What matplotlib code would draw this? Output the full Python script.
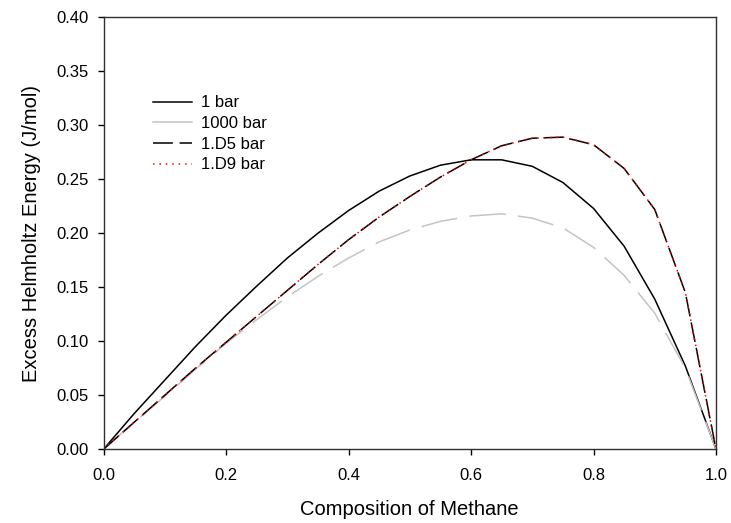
#!/usr/bin/env python3

import matplotlib
matplotlib.use("Agg")
import matplotlib.pyplot as plt
from matplotlib.lines import Line2D
import numpy as np

# Composition of methane (mole fraction)
composition = [0.00, 0.05, 0.10, 0.15, 0.20, 0.25, 0.30, 0.35, 0.40, 0.45, 0.50,
               0.55, 0.60, 0.65, 0.70, 0.75, 0.80, 0.85, 0.90, 0.95, 1.00]

# Excess Helmholtz energy (J/mol) at each pressure
energy_1bar = [0.000, 0.033, 0.064, 0.095, 0.124, 0.151, 0.177, 0.200, 0.221, 0.239, 0.253,
               0.263, 0.268, 0.268, 0.262, 0.247, 0.223, 0.188, 0.139, 0.077, 0.000]
energy_1000bar = [0.000, 0.025, 0.049, 0.074, 0.098, 0.120, 0.141, 0.160, 0.177, 0.192, 0.203,
                  0.211, 0.216, 0.218, 0.214, 0.205, 0.187, 0.161, 0.126, 0.075, 0.000]
energy_1d5bar = [0.000, 0.025, 0.050, 0.075, 0.099, 0.123, 0.147, 0.171, 0.194, 0.215, 0.234,
                 0.252, 0.268, 0.281, 0.288, 0.289, 0.282, 0.260, 0.222, 0.145, 0.000]
energy_1d9bar = [0.000, 0.025, 0.050, 0.075, 0.099, 0.123, 0.147, 0.171, 0.194, 0.215, 0.234,
                 0.252, 0.268, 0.281, 0.288, 0.289, 0.282, 0.260, 0.222, 0.145, 0.000]

labels = ["1 bar", "1000 bar", "1.D5 bar", "1.D9 bar"]

x_ticks = [0.0, 0.2, 0.4, 0.6, 0.8, 1.0]
y_ticks = [0.00, 0.05, 0.10, 0.15, 0.20, 0.25, 0.30, 0.35, 0.40]


def plot_helmholtz(filename: str) -> None:
    '''
    Plot excess Helmholtz energy against methane composition
    '''
    plt.rcParams['font.family'] = ['Liberation Sans', 'DejaVu Sans']

    fig, ax = plt.subplots(figsize=(7.31, 5.23), dpi=100)
    fig.subplots_adjust(left=0.1416, right=0.9795, bottom=0.141, top=0.967)

    ax.plot(composition, energy_1bar, color="black", lw=1.1)
    ax.plot(composition, energy_1000bar, color="#c4c4c4", lw=1.1,
            dashes=(24, 8))
    ax.plot(composition, energy_1d5bar, color="black", lw=1.1,
            dashes=(13, 4))
    ax.plot(composition, energy_1d9bar, color="red", lw=1.1,
            dashes=(1, 3.2))

    # Legend handles (the 1000 bar entry is shown solid)
    handles = [Line2D([], [], color="black", lw=1.1),
               Line2D([], [], color="#c4c4c4", lw=1.1),
               Line2D([], [], color="black", lw=1.1, dashes=(13, 4.4)),
               Line2D([], [], color="red", lw=1.1, dashes=(1, 3.2))]
    ax.legend(handles, labels, loc="upper left",
              bbox_to_anchor=(0.08, 0.819), frameon=False, fontsize=12,
              handlelength=2.35, handletextpad=0.55, labelspacing=0.34,
              borderpad=0, borderaxespad=0)

    ax.set_xlim(0, 1.0)
    ax.set_ylim(0, 0.40)
    ax.set_xticks(x_ticks)
    ax.set_yticks(y_ticks)
    ax.set_xticklabels([f"{t:.1f}" for t in x_ticks])
    ax.set_yticklabels([f"{t:.2f}" for t in y_ticks])
    ax.tick_params(direction="out", length=4.5, width=1, labelsize=12,
                   top=False, right=False)
    ax.tick_params(axis="x", pad=9)
    ax.tick_params(axis="y", pad=6)

    for spine in ax.spines.values():
        spine.set_linewidth(1)
        spine.set_color("#303030")

    ax.set_xlabel("Composition of Methane", fontsize=14.5, labelpad=12)
    ax.set_ylabel("Excess Helmholtz Energy (J/mol)", fontsize=14.5, labelpad=11)

    plt.savefig(filename, dpi=100)


def main():
    '''
    Main function
    '''
    plot_helmholtz("out.png")


if __name__ == '__main__':
    main()
